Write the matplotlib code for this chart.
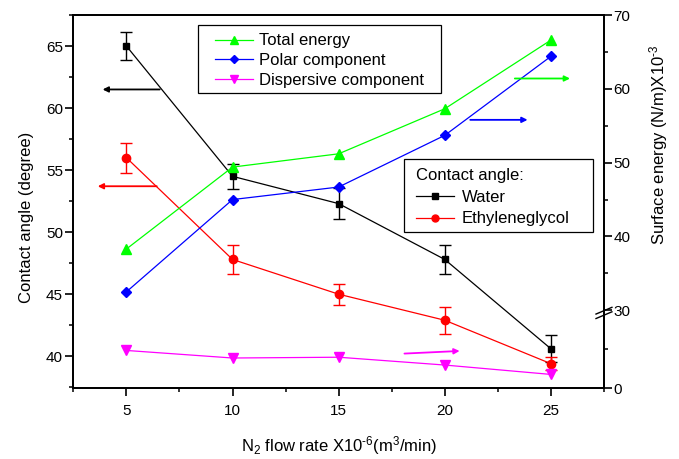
import numpy as np
import matplotlib
matplotlib.use("Agg")
import matplotlib.pyplot as plt
from matplotlib.ticker import MultipleLocator, FixedLocator
from matplotlib.lines import Line2D
from matplotlib.patches import Rectangle

plt.rcParams['font.family'] = ['Liberation Sans', 'DejaVu Sans']
plt.rcParams['mathtext.fontset'] = 'custom'
plt.rcParams['mathtext.rm'] = 'Liberation Sans'
plt.rcParams['mathtext.it'] = 'Liberation Sans:italic'

# ---- data ----
flow = [5, 10, 15, 20, 25]
water = [65.0, 54.5, 52.3, 47.8, 40.6]
water_err = [1.15, 1.0, 1.25, 1.2, 1.1]
glycol = [56.0, 47.8, 45.0, 42.9, 39.4]
glycol_err = [1.2, 1.2, 0.85, 1.1, 0.5]
total_energy = [38.3, 49.4, 51.2, 57.3, 66.6]
polar = [32.5, 45.0, 46.7, 53.7, 64.4]
dispersive = [14.6, 11.7, 12.0, 9.0, 5.4]

xticks = [5, 10, 15, 20, 25]
left_ticks = [40, 45, 50, 55, 60, 65]
right_ticks = [0, 30, 40, 50, 60, 70]

# arrows: (x_start, x_end, y)
arrow_water = (6.57, 3.88, 61.5)
arrow_glycol = (6.43, 3.65, 53.7)
arrow_polar = (21.2, 23.9, 55.8)
arrow_total = (23.3, 25.9, 61.4)
arrow_disp = ((18.1, 13.4), (20.7, 14.4))

# broken right axis scale
BREAK = 30.0
K = 0.353


def fwd(v):
    v = np.asarray(v, dtype=float)
    return np.where(v <= BREAK, v * K, BREAK * K + (v - BREAK))


def inv(u):
    u = np.asarray(u, dtype=float)
    return np.where(u <= BREAK * K, u / K, BREAK + (u - BREAK * K))


W, H = 679, 459
fig = plt.figure(figsize=(W / 100, H / 100), dpi=100)
ax = fig.add_axes([0.108, 0.1536, 0.7815, 0.8137])
ax2 = ax.twinx()

GREEN, BLUE, MAG, RED = '#00ff00', '#0000ff', '#ff00ff', '#ff0000'

# contact angle
ax.errorbar(flow, water, yerr=water_err, color='black', marker='s', ms=5,
            lw=0.9, elinewidth=1.0, capsize=4, capthick=1.0)
ax.errorbar(flow, glycol, yerr=glycol_err, color=RED, marker='o', ms=6,
            lw=0.9, elinewidth=1.0, capsize=4, capthick=1.0)

ax.set_xlim(2.5, 27.5)
ax.set_ylim(37.4, 67.5)
ax.xaxis.set_major_locator(FixedLocator(xticks))
ax.xaxis.set_minor_locator(MultipleLocator(2.5))
ax.yaxis.set_major_locator(FixedLocator(left_ticks))
ax.yaxis.set_minor_locator(MultipleLocator(2.5))

# surface energy
ax2.set_yscale('function', functions=(fwd, inv))
ax2.plot(flow, total_energy, color=GREEN, marker='^', ms=7, lw=0.9)
ax2.plot(flow, polar, color=BLUE, marker='D', ms=5, lw=0.9)
ax2.plot(flow, dispersive, color=MAG, marker='v', ms=7, lw=0.9)
ax2.set_ylim(0, 70)
ax2.yaxis.set_major_locator(FixedLocator(right_ticks))
ax2.yaxis.set_minor_locator(FixedLocator([15, 35, 45, 55, 65]))

for a in (ax, ax2):
    for s in a.spines.values():
        s.set_linewidth(1.3)
ax.tick_params(axis='both', which='major', direction='out', length=5.5, width=1.2, labelsize=11)
ax.tick_params(axis='both', which='minor', direction='out', length=3, width=1.1)
ax.tick_params(axis='x', which='major', pad=6)
ax.tick_params(axis='y', which='major', pad=2)
ax2.tick_params(axis='y', which='major', direction='out', length=5.5, width=1.2, labelsize=11, pad=1.5)
ax2.tick_params(axis='y', which='minor', direction='out', length=3, width=1.1)

# labels
ax.set_xlabel('N$_2$ flow rate X10$^{\u2010 6}$(m$^3$/min)', fontsize=12)
ax.xaxis.set_label_coords(0.5, -0.122)
ax.set_ylabel('Contact angle (degree)', fontsize=12)
ax.yaxis.set_label_coords(-0.075, 0.458)
ax2.set_ylabel('Surface energy (N/m)X10$^{\u2010 3}$', fontsize=12)
ax2.yaxis.set_label_coords(1.081, 0.652)


def arrow(a, x0, y0, x1, y1, color):
    a.annotate('', xy=(x1, y1), xytext=(x0, y0),
               arrowprops=dict(arrowstyle='-|>', color=color, lw=1.3,
                               mutation_scale=8, shrinkA=0, shrinkB=0))


arrow(ax, arrow_water[0], arrow_water[2], arrow_water[1], arrow_water[2], 'black')
arrow(ax, arrow_glycol[0], arrow_glycol[2], arrow_glycol[1], arrow_glycol[2], RED)
arrow(ax2, arrow_polar[0], arrow_polar[2], arrow_polar[1], arrow_polar[2], BLUE)
arrow(ax2, arrow_total[0], arrow_total[2], arrow_total[1], arrow_total[2], GREEN)
arrow(ax2, arrow_disp[0][0], arrow_disp[0][1], arrow_disp[1][0], arrow_disp[1][1], MAG)

# axis break marks on right spine
yb = float(fwd(BREAK) / fwd(70))
for dy in (-0.022, -0.010):
    ax2.plot([0.985, 1.015], [yb + dy, yb + dy + 0.018], transform=ax2.transAxes,
             color='black', lw=1.0, clip_on=False)

# legends (frames drawn as rectangles in pixel coordinates)
def frame(x0, y0, x1, y1):
    fig.patches.append(Rectangle((x0 / W, 1 - y1 / H), (x1 - x0) / W, (y1 - y0) / H,
                                 transform=fig.transFigure, fill=True, facecolor='white',
                                 edgecolor='black', lw=0.9, zorder=5))

frame(197.5, 25, 440.5, 92.5)
frame(403.5, 159.5, 593, 232)

h1 = [Line2D([], [], color=GREEN, marker='^', ms=5.5, lw=0.9),
      Line2D([], [], color=BLUE, marker='D', ms=4.5, lw=0.9),
      Line2D([], [], color=MAG, marker='v', ms=5.5, lw=0.9)]
leg1 = fig.legend(handles=h1, labels=['Total energy', 'Polar component', 'Dispersive component'],
                  loc='upper left', bbox_to_anchor=(215 / W, 1 - 33.5 / H),
                  bbox_transform=fig.transFigure, borderaxespad=0, borderpad=0, fontsize=12,
                  frameon=False, handlelength=2.3, handletextpad=0.35, labelspacing=0.28)
leg1.set_zorder(6)

h2 = [Line2D([], [], color='black', marker='s', ms=4.5, lw=0.9),
      Line2D([], [], color=RED, marker='o', ms=5, lw=0.9)]
leg2 = fig.legend(handles=h2, labels=['Water', 'Ethyleneglycol'], title='Contact angle:',
                  alignment='left', loc='upper left', bbox_to_anchor=(416 / W, 1 - 168 / H),
                  bbox_transform=fig.transFigure, borderaxespad=0, borderpad=0, fontsize=12,
                  title_fontsize=12, frameon=False, handlelength=2.3, handletextpad=0.45,
                  labelspacing=0.4)
leg2.set_zorder(6)

fig.savefig('out.png', dpi=100)
